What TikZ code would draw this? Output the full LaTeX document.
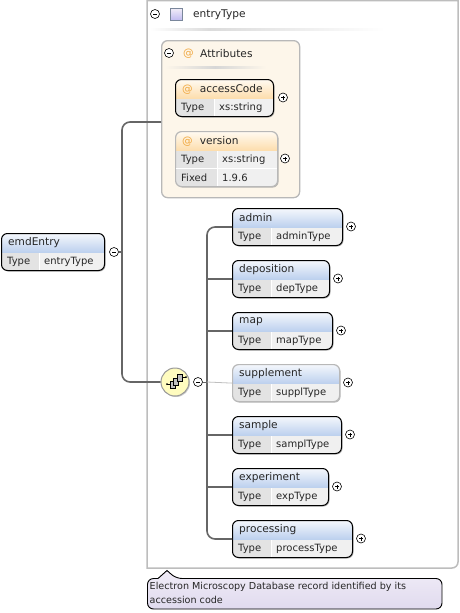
\documentclass[tikz,border=0pt]{standalone}
\usepackage{fontspec}
\setmainfont{DejaVu Sans}
\usetikzlibrary{shapes.geometric,shadows,calc}
\definecolor{linegrey}{HTML}{666666}
\definecolor{panelgrey}{HTML}{BDBDBD}
\definecolor{attrorange}{HTML}{F0A840}
\definecolor{headtop}{HTML}{F4F7FC}
\definecolor{headlow}{HTML}{BCD0EE}
\definecolor{attrfill}{HTML}{FDF6EA}
\definecolor{notetop}{HTML}{F0ECF7}
\definecolor{notelow}{HTML}{E0DAEE}
\tikzset{
  conn/.style={draw=linegrey, line width=1.6pt},
  boxbase/.style={rectangle, rounded corners=6pt, line width=1pt, fill=white, anchor=north west,
    minimum height=37pt, inner sep=0pt, drop shadow={shadow xshift=1pt, shadow yshift=-1pt, fill=black!45, opacity=0.6}},
  reqbox/.style={boxbase, draw=black},
  optbox/.style={boxbase, draw=black!28, line width=1.2pt},
  boxtext/.style={inner sep=0pt, anchor=west, font=\fontsize{10}{11}\selectfont, text=black!85},
  titletext/.style={boxtext, font=\fontsize{10.6}{11}\selectfont},
  toggle/.style={circle, draw=black, fill=white, line width=0.6pt, minimum size=9pt, inner sep=0pt},
  collapse/.style={toggle, path picture={\draw[line width=0.6pt] ([xshift=-2pt]path picture bounding box.center) -- ([xshift=2pt]path picture bounding box.center);}},
  expand/.style={toggle, path picture={\draw[line width=0.6pt] ([xshift=-2pt]path picture bounding box.center) -- ([xshift=2pt]path picture bounding box.center) ([yshift=-2pt]path picture bounding box.center) -- ([yshift=2pt]path picture bounding box.center);}},
}
% [style]{name}{x}{y}{width}{key cell width}{title}{value}
\newcommand{\elem}[8][reqbox]{
  \node[#1, minimum width=#5pt, path picture={
    \coordinate (pnw) at (path picture bounding box.north west);
    \coordinate (pse) at (path picture bounding box.south east);
    \begin{scope}[sharp corners]
      \shade[top color=headtop, bottom color=headlow] (pnw) rectangle ($(pse|-pnw)+(0,19)$);
      \fill[black!11] ($(pnw)+(0,19)$) rectangle ($(pnw|-pse)+(#6,0)$);
      \fill[black!6] ($(pnw)+(#6+1,19)$) rectangle (pse);
    \end{scope}
  }] (#2) at (#3,#4) {};
  \node[titletext] (#2title) at (#3+7,#4+10) {#7};
  \node[boxtext] (#2key) at (#3+6,#4+28.5) {Type};
  \node[boxtext] (#2val) at (#3+#6+6,#4+28.5) {#8};
}
\begin{document}
\begin{tikzpicture}[x=1pt,y=-1pt]
  \useasboundingbox (0,0) rectangle (460,613);
  \fill[white] (0,0) rectangle (460,613);
  % entryType panel
  \draw[panelgrey, line width=1.5pt] (147,0.7) -- (147,568) [rounded corners=6pt] -- (458,568) [sharp corners] -- (458,0.7) -- cycle;
  \node[collapse] (typetoggle) at (155,14) {};
  \node[rectangle, draw=black!35!headlow, line width=0.8pt, minimum size=12pt, inner sep=0pt, top color=notetop, bottom color=notelow!85!blue] (typeicon) at (176.5,14.5) {};
  \node[titletext] (typename) at (193,14.5) {entryType};
  \shade[left color=white, right color=black!14] (150,28) rectangle (210,30);
  \shade[left color=black!14, right color=white] (210,28) rectangle (385,30);
  % Attributes
  \node[rectangle, rounded corners=6pt, draw=black!28, line width=1.3pt, fill=attrfill, anchor=north west, minimum width=138pt, minimum height=157pt, inner sep=0pt] (attrs) at (161,40) {};
  \node[collapse] (attrstoggle) at (169,53) {};
  \node[titletext, text=attrorange] (attrsat) at (183,53.5) {@};
  \node[titletext] (attrsname) at (200,53.5) {Attributes};
  \shade[left color=attrfill, right color=black!16] (165,66) rectangle (215,68);
  \shade[left color=black!16, right color=attrfill] (215,66) rectangle (266,68);
  \begin{scope}
    \definecolor{headtop}{HTML}{FFFAF1}
    \definecolor{headlow}{HTML}{FDDDAC}
    \elem{access}{175}{79}{98}{38}{\textcolor{attrorange}{@}\hspace{7pt}accessCode}{xs:string}
    \elem[optbox, minimum height=55pt]{version}{175}{131}{102}{41}{\textcolor{attrorange}{@}\hspace{7pt}version}{xs:string}
    \draw[white, line width=1pt] (175.5,168.5) -- (276.5,168.5);
    \node[boxtext] (fixedkey) at (181,177.5) {Fixed};
    \node[boxtext] (fixedval) at (222,177.5) {1.9.6};
  \end{scope}
  \node[expand] (accessplus) at (283,97.5) {};
  \node[expand] (versionplus) at (285,158.5) {};
  % root element
  \elem{emdentry}{1}{233}{103}{37}{emdEntry}{entryType}
  \node[collapse] (emdtoggle) at (114,252) {};
  % compositor
  \node[circle, draw=black!40, line width=1pt, minimum size=28pt, inner sep=0pt, fill=yellow!25, drop shadow={shadow xshift=1pt, shadow yshift=-1pt, fill=black!40, opacity=0.5}] (compositor) at (175,382) {};
  \coordinate (iconleft) at (167,384);
  \coordinate (iconright) at (186,377);
  \draw[black, line width=0.8pt] (iconleft) -- (170,384) (182,377) -- (iconright);
  \fill[black] (iconleft) circle (1);
  \fill[black] (iconright) circle (1);
  \draw[black, fill=black!25, line width=0.7pt] (170,381) rectangle (175,388);
  \draw[black, fill=black!25, line width=0.7pt] (173.5,378) rectangle (178.5,385);
  \draw[black, fill=black!25, line width=0.7pt] (177,374.5) rectangle (182,381.5);
  \node[collapse] (seqtoggle) at (198,382) {};
  % child elements
  \elem{admin}{232}{208}{110}{38}{admin}{adminType}
  \elem{deposition}{232}{260}{97}{38}{deposition}{depType}
  \elem{map}{232}{312}{100}{38}{map}{mapType}
  \elem[optbox]{supplement}{232}{364}{107}{38}{supplement}{supplType}
  \elem{sample}{232}{416}{109}{38}{sample}{samplType}
  \elem{experiment}{232}{468}{96}{38}{experiment}{expType}
  \elem{processing}{232}{520}{120}{38}{processing}{processType}
  \foreach \child/\px/\py in {admin/351/226.5, deposition/338/278.5, map/341/330.5, supplement/348/382.5, sample/350/434.5, experiment/337/486.5, processing/361/538.5}
    \node[expand] (\child plus) at (\px,\py) {};
  % connectors
  \coordinate (attrsjoin) at (161,122);
  \coordinate (trunk) at (122,252);
  \coordinate (spine) at (207,382);
  \draw[conn] (emdtoggle.east) -- (trunk);
  \draw[conn, rounded corners=8pt] (attrsjoin) -| (trunk) |- (compositor.west);
  \draw[conn, rounded corners=8pt] (admin.west) -| (spine) |- (processing.west);
  \foreach \child in {deposition, map, sample, experiment}
    \draw[conn] (spine |- \child.west) -- (\child.west);
  \draw[black!25, line width=0.8pt] (spine) -- (supplement.west);
  \draw[conn, line width=1pt] (seqtoggle.east) -- (spine);
  % annotation
  \draw[black, line width=0.9pt, top color=notetop, bottom color=notelow, rounded corners=6pt]
    (158,578.5) -- (147.5,578.5) -- (147.5,609) -- (442,609) -- (442,578.5) -- (176,578.5) [sharp corners] -- (167,570.5) -- cycle;
  \node[inner sep=0pt, anchor=north west, align=left, font=\fontsize{9.6}{13.5}\selectfont, text=black!85] (note) at (149.5,582) {Electron Microscopy Database record identified by its\\accession code};
\end{tikzpicture}
\end{document}
